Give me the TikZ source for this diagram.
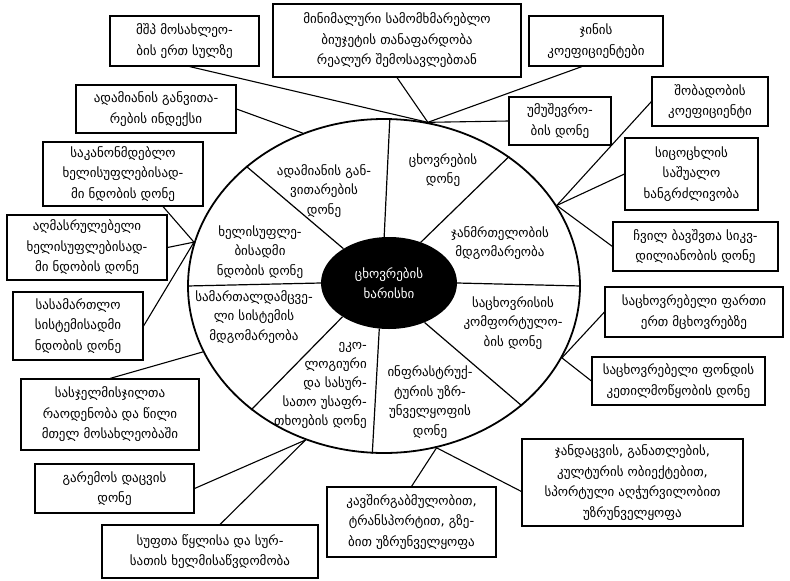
\documentclass[tikz,border=0pt]{standalone}
\usepackage{fontspec}
\setmainfont{DejaVu Sans}
\usetikzlibrary{shapes.geometric}

\begin{document}
\begin{tikzpicture}[x=1pt,y=-1pt]
  \tikzstyle{factor}=[rectangle,draw,line width=1.1pt,align=center,inner sep=1pt,font=\fontsize{13}{20.5}\selectfont]
  \tikzstyle{sector}=[align=center,inner sep=1pt,font=\fontsize{13}{19.5}\selectfont]
  \tikzstyle{link}=[line width=1.1pt]
  \useasboundingbox[fill=white] (0,0) rectangle (790,581);
  % the wheel and its hub
  \node[ellipse,draw,line width=1.8pt,minimum width=392,minimum height=334] (wheel) at (384,286) {};
  \node[ellipse,fill=black,text=white,align=center,minimum width=136,minimum height=92,
    font=\fontsize{13}{20}\selectfont] (core) at (389,283) {ცხოვრების\\ხარისხი};
  \foreach \a/\b in {96/88,143/139,52/46,180/180,0/0,216/223,258/266,312/319}
    \draw[line width=1.2pt] (core.\a) -- (wheel.\b);
  % sectors
  \node[sector] (hdilevel) at (324,191) {ადამიანის გან-\\ვითარების\\დონე};
  \node[sector] (livlevel) at (443,170) {ცხოვრების\\დონე};
  \node[sector] (healthstate) at (500,243) {ჯანმრთელობის\\მდგომარეობა};
  \node[sector] (trust) at (260,252) {ხელისუფლე-\\ბისადმი\\ნდობის დონე};
  \node[sector] (lawsys) at (254,317) {სამართალდამცვე-\\ლი სისტემის\\მდგომარეობა};
  \node[sector,align=right,anchor=east,font=\fontsize{13}{19}\selectfont] (ecology) at (368,385)
    {ეკო-\\ლოგიური\\და სასურ-\\სათო უსაფრ-\\თხოების დონე};
  \node[sector] (infra) at (430,402) {ინფრასტრუქ-\\ტურის უზრ-\\უნველყოფის\\დონე};
  \node[sector] (comfort) at (513,323) {საცხოვრისის\\კომფორტულო-\\ბის დონე};
  % points on the rim
  \coordinate (rimtop) at (wheel.75.4);
  \coordinate (rimhdi) at (wheel.118.2);
  \coordinate (rimhealth) at (wheel.25.2);
  \coordinate (rimhouse) at (wheel.-22.2);
  \coordinate (riminfra) at (wheel.-72.5);
  \coordinate (rimlaw) at (wheel.200.3);
  \coordinate (rimeco) at (wheel.243.4);
  \coordinate (rimtrust) at (wheel.167.9);
  % indicators
  \node[factor,minimum width=149,minimum height=50] (gdp) at (184.5,41) {მშპ მოსახლეო-\\ბის ერთ სულზე};
  \node[factor,minimum width=160,minimum height=48] (hdi) at (156,109) {ადამიანის განვითა-\\რების ინდექსი};
  \node[factor,minimum width=248,minimum height=73] (budget) at (397,40.5) {მინიმალური სამომხმარებლო\\ბიუჯეტის თანაფარდობა\\რეალურ შემოსავლებთან};
  \node[factor,minimum width=134,minimum height=50] (gini) at (596,41) {ჯინის\\კოეფიციენტები};
  \node[factor,minimum width=102,minimum height=48] (unemp) at (560,121) {უმუშევრო-\\ბის დონე};
  \node[factor,minimum width=116,minimum height=49] (birth) at (710,101.5) {შობადობის\\კოეფიციენტი};
  \node[factor,minimum width=133,minimum height=72] (life) at (691.5,174) {სიცოცხლის\\საშუალო\\ხანგრძლივობა};
  \node[factor,minimum width=165,minimum height=49] (infant) at (695.5,246.5) {ჩვილ ბავშვთა სიკვ-\\დილიანობის დონე};
  \node[factor,minimum width=178,minimum height=50] (space) at (694,312) {საცხოვრებელი ფართი\\ერთ მცხოვრებზე};
  \node[factor,minimum width=173,minimum height=48] (fund) at (678.5,381) {საცხოვრებელი ფონდის\\კეთილმოწყობის დონე};
  \node[factor,minimum width=221,minimum height=87] (services) at (632.5,482.5) {ჯანდაცვის, განათლების,\\კულტურის ობიექტებით,\\სპორტული აღჭურვილობით\\უზრუნველყოფა};
  \node[factor,minimum width=169,minimum height=70] (transport) at (411.5,522) {კავშირგაბმულობით,\\ტრანსპორტით, გზე-\\ბით უზრუნველყოფა};
  \node[factor,minimum width=178,minimum height=71] (prison) at (110,414.5) {სასჯელმისჯილთა\\რაოდენობა და წილი\\მთელ მოსახლეობაში};
  \node[factor,minimum width=159,minimum height=49] (environ) at (114.5,488.5) {გარემოს დაცვის\\დონე};
  \node[factor,minimum width=216,minimum height=53] (water) at (210,551.5) {სუფთა წყლისა და სურ-\\სათის ხელმისაწვდომობა};
  \node[factor,minimum width=160,minimum height=64] (legis) at (123,174) {საკანონმდებლო\\ხელისუფლებისად-\\მი ნდობის დონე};
  \node[factor,minimum width=160,minimum height=65] (exec) at (87,247.5) {აღმასრულებელი\\ხელისუფლებისად-\\მი ნდობის დონე};
  \node[factor,minimum width=130,minimum height=68] (court) at (78,326) {სასამართლო\\სისტემისადმი\\ნდობის დონე};
  % connectors
  \draw[link] ([xshift=5pt]gdp.south) -- (rimtop);
  \draw[link] (budget.south) -- (rimtop);
  \draw[link] ([xshift=-14pt]gini.south) -- (rimtop);
  \draw[link] (unemp.west) -- (rimtop);
  \draw[link] (hdi.east) -- (rimhdi);
  \draw[link] (birth.west) -- (rimhealth);
  \draw[link] (life.west) -- (rimhealth);
  \draw[link] (infant.west) -- (rimhealth);
  \draw[link] (space.west) -- (rimhouse);
  \draw[link] (fund.west) -- (rimhouse);
  \draw[link] ([yshift=-9pt]services.west) -- (riminfra);
  \draw[link] (transport.north) -- (riminfra);
  \draw[link] (prison.north) -- (rimlaw);
  \draw[link] (environ.east) -- (rimeco);
  \draw[link] ([xshift=10pt]water.north) -- (rimeco);
  \draw[link] ([xshift=40pt]legis.south) -- (rimtrust);
  \draw[link] (exec.east) -- (rimtrust);
  \draw[link] (court.east) -- (rimtrust);
\end{tikzpicture}
\end{document}
